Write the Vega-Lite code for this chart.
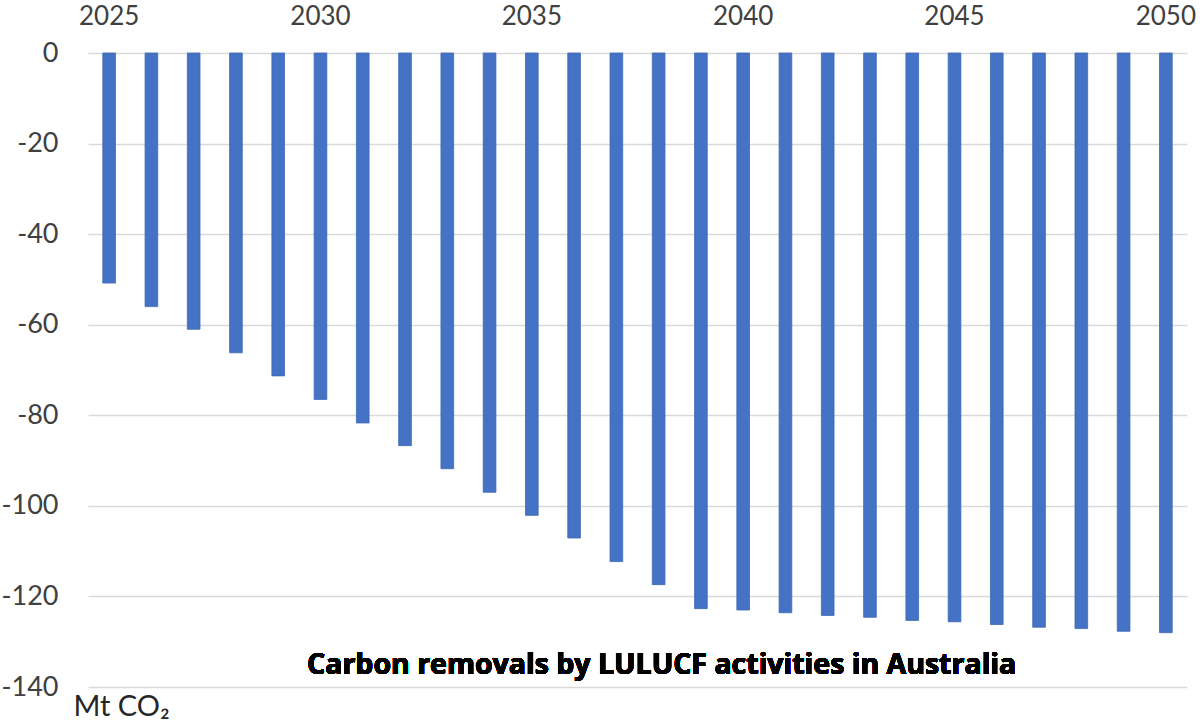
{
  "$schema": "https://vega.github.io/schema/vega-lite/v6.json",
  "width": 1099,
  "height": 634,
  "autosize": {"type": "none"},
  "padding": {"left": 88, "top": 53, "right": 13, "bottom": 39},
  "background": "white",
  "config": {"view": {"stroke": null}, "font": "Lato"},
  "data": {
    "values": [
      {"year": 2025, "value": -50.8},
      {"year": 2026, "value": -56.0},
      {"year": 2027, "value": -61.0},
      {"year": 2028, "value": -66.2},
      {"year": 2029, "value": -71.3},
      {"year": 2030, "value": -76.5},
      {"year": 2031, "value": -81.7},
      {"year": 2032, "value": -86.7},
      {"year": 2033, "value": -91.8},
      {"year": 2034, "value": -97.0},
      {"year": 2035, "value": -102.1},
      {"year": 2036, "value": -107.1},
      {"year": 2037, "value": -112.3},
      {"year": 2038, "value": -117.4},
      {"year": 2039, "value": -122.7},
      {"year": 2040, "value": -123.0},
      {"year": 2041, "value": -123.6},
      {"year": 2042, "value": -124.2},
      {"year": 2043, "value": -124.6},
      {"year": 2044, "value": -125.3},
      {"year": 2045, "value": -125.6},
      {"year": 2046, "value": -126.2},
      {"year": 2047, "value": -126.8},
      {"year": 2048, "value": -127.1},
      {"year": 2049, "value": -127.7},
      {"year": 2050, "value": -128.0}
    ]
  },
  "layer": [
    {
      "mark": {"type": "bar", "color": "#4472C4", "stroke": "#3F68B5", "strokeWidth": 0.8},
      "encoding": {
        "x": {
          "field": "year",
          "type": "ordinal",
          "scale": {"paddingInner": 0.7, "paddingOuter": 0.35},
          "axis": {
            "orient": "top",
            "title": null,
            "values": [2025, 2030, 2035, 2040, 2045, 2050],
            "labelAngle": 0,
            "labelFontSize": 26,
            "labelColor": "#404040",
            "labelPadding": 24,
            "ticks": false,
            "domain": false,
            "grid": false
          }
        },
        "y": {
          "field": "value",
          "type": "quantitative",
          "scale": {"domain": [-140, 0], "nice": false},
          "axis": {
            "values": [0, -20, -40, -60, -80, -100, -120, -140],
            "labelExpr": "toString(datum.value)",
            "labelFontSize": 27,
            "labelColor": "#404040",
            "labelPadding": 30,
            "ticks": false,
            "domain": false,
            "grid": true,
            "gridColor": "#D9D9D9",
            "gridWidth": 1.5,
            "title": "Mt CO₂",
            "titleFontSize": 29,
            "titleFontWeight": "normal",
            "titleColor": "#262626",
            "titleAngle": 0,
            "titleAlign": "left",
            "titleBaseline": "top",
            "titleX": -15,
            "titleY": 639
          }
        }
      }
    },
    {
      "mark": {"type": "text", "text": "Carbon removals by LULUCF activities in Australia", "font": "Open Sans", "fontSize": 28.5, "fontWeight": "bold", "fill": "#000000", "align": "center", "baseline": "alphabetic", "dx": 3},
      "encoding": {
        "x": {"datum": 2038, "type": "ordinal"},
        "y": {"datum": -137.2, "type": "quantitative"}
      }
    }
  ]
}
